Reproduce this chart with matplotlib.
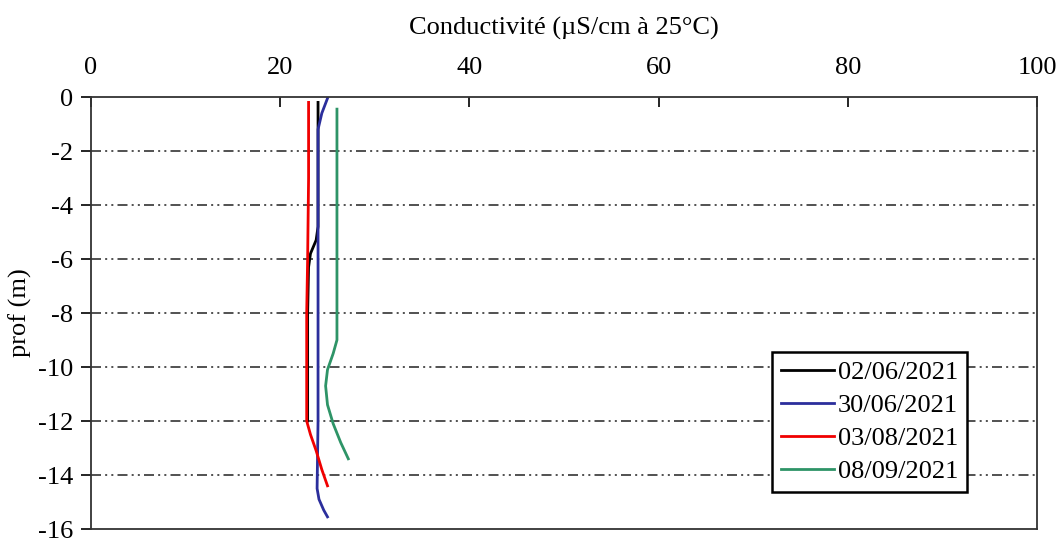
import matplotlib
matplotlib.use('Agg')
import matplotlib.pyplot as plt

plt.rcParams['font.family'] = ['Liberation Serif', 'DejaVu Serif']
plt.rcParams['axes.unicode_minus'] = False

# profils de conductivité (µS/cm à 25°C) en fonction de la profondeur (m)
d1_cond = [24.0, 24.0, 24.0, 24.0, 23.8, 23.2, 23.0, 22.9, 22.9, 22.9, 22.9]
d1_prof = [-0.2, -1.0, -3.0, -4.8, -5.3, -5.8, -6.3, -8.0, -10.0, -11.0, -12.0]

d2_cond = [25.0, 24.4, 24.0, 24.0, 24.0, 24.0, 24.0, 23.9, 24.1, 24.6, 25.0]
d2_prof = [-0.05, -0.6, -1.2, -3.0, -6.0, -9.0, -12.0, -14.5, -14.9, -15.3, -15.55]

d3_cond = [23.0, 23.0, 22.9, 22.8, 22.8, 22.8, 23.2, 23.8, 24.4, 25.0]
d3_prof = [-0.2, -3.0, -6.0, -8.0, -10.0, -12.0, -12.5, -13.1, -13.8, -14.4]

d4_cond = [26.0, 26.0, 26.0, 26.0, 25.6, 25.0, 24.8, 25.0, 25.6, 26.4, 27.2]
d4_prof = [-0.45, -3.0, -6.0, -9.0, -9.5, -10.1, -10.7, -11.4, -12.1, -12.8, -13.4]

labels = ['02/06/2021', '30/06/2021', '03/08/2021', '08/09/2021']
colors = ['#000000', '#2B2E9C', '#F00000', '#2E9467']

fig = plt.figure(figsize=(10.61, 5.39), dpi=100)
ax = fig.add_axes([91 / 1061, 1 - 529 / 539, 946 / 1061, 432 / 539])

series = [(d1_cond, d1_prof), (d2_cond, d2_prof), (d3_cond, d3_prof), (d4_cond, d4_prof)]
for (c, p), lab, col in zip(series, labels, colors):
    ax.plot(c, p, color=col, lw=2, label=lab)

ax.set_xlim(0, 100)
ax.set_ylim(-16, 0)
ax.set_xticks(range(0, 101, 20))
ax.set_yticks(range(-16, 1, 2))

# grille horizontale trait-point-point
for y in range(-14, 0, 2):
    ax.axhline(y, color='#333333', lw=1.2, zorder=0,
               linestyle=(0, (6, 2.5, 1.2, 2.5, 1.2, 2.5)))

ax.xaxis.tick_top()
ax.xaxis.set_label_position('top')
ax.tick_params(axis='x', direction='in', length=7, width=1.2, labelsize=19, pad=13)
ax.tick_params(axis='y', direction='out', length=7, width=1.2, labelsize=19, pad=6)
for s in ax.spines.values():
    s.set_linewidth(1.3)
    s.set_color('#333333')

ax.set_xlabel('Conductivité (µS/cm à 25°C)', fontsize=19, labelpad=16)
ax.set_ylabel('prof (m)', fontsize=19, labelpad=4)

leg = ax.legend(loc='lower right', bbox_to_anchor=(0.926, 0.086), fontsize=19,
                fancybox=False, framealpha=1, edgecolor='black',
                handlelength=2.0, handletextpad=0.15, borderpad=0.33,
                labelspacing=0.36, borderaxespad=0)
leg.get_frame().set_linewidth(1.8)

fig.savefig('out.png', dpi=100)
